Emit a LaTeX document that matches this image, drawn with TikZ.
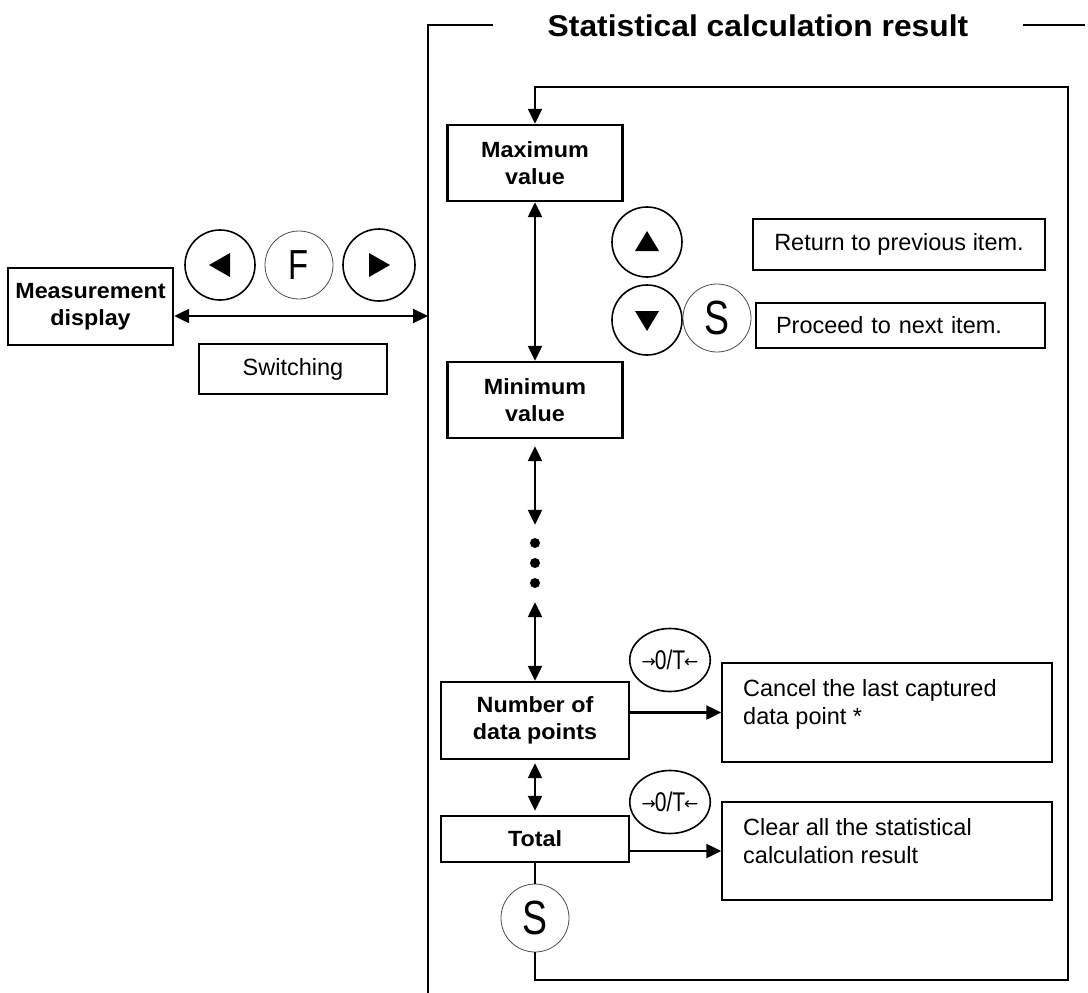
\documentclass[tikz,border=0pt]{standalone}
\usepackage{fontspec}
\setmainfont{Liberation Sans}
\newfontfamily\labfont{Liberation Sans}[FakeStretch=1.06]
\newfontfamily\narrowfont{Liberation Sans}[FakeStretch=0.78]
\newfontfamily\symfont{DejaVu Sans}
\usetikzlibrary{arrows.meta,shapes.geometric}
\newcommand{\zerotlabel}{\raisebox{2pt}{\symfont\fontsize{17}{17}\selectfont→}\kern-1pt{\narrowfont\fontsize{27}{27}\selectfont 0/T}\kern-1pt\raisebox{2pt}{\symfont\fontsize{17}{17}\selectfont←}}
\begin{document}
\begin{tikzpicture}[x=1pt,y=-1pt,
  bbox/.style={draw,line width=2.4pt,inner sep=0pt,align=center,font=\labfont\bfseries\fontsize{22}{27.5}\selectfont},
  tbox/.style={draw,line width=1.4pt,inner sep=0pt,font=\fontsize{23.5}{28}\selectfont},
  ttext/.style={anchor=north west,inner sep=0pt,align=left,font=\fontsize{23.5}{28}\selectfont},
  keybtn/.style={circle,draw,line width=1.6pt,inner sep=0pt},
  skey/.style={circle,draw=black!70,line width=0.8pt,inner sep=0pt,font=\narrowfont\fontsize{48}{48}\selectfont},
  ztkey/.style={ellipse,draw,line width=1.6pt,inner sep=0pt,minimum width=68pt,minimum height=63pt},
  dotn/.style={circle,fill,inner sep=0pt,minimum size=10pt},
  arr/.style={line width=2.3pt,-{Triangle[length=15pt,width=14pt]}},
  darr/.style={line width=2.3pt,{Triangle[length=15pt,width=14pt]}-{Triangle[length=15pt,width=14pt]}},
  loopline/.style={line width=1.8pt}]
\useasboundingbox (0,0) rectangle (1088,993);

% title and bracket
\node[inner sep=0pt,font=\labfont\bfseries\fontsize{30}{36}\selectfont] (title) at (758,25.5) {Statistical calculation result};
\draw[loopline] (493,25) -- (428,25) -- (428,993);
\draw[loopline] (1023,25) -- (1085,25);

% left part
\node[bbox,minimum width=165pt,minimum height=77pt] (meas) at (90.5,306.5) {Measurement\\display};
\node[keybtn,minimum size=70pt] (lt) at (220,265) {};
\node[skey,minimum size=68pt,font=\narrowfont\fontsize{42}{42}\selectfont] (fk) at (299,265) {F};
\node[keybtn,minimum size=72pt] (rt) at (379,265) {};
\fill ([xshift=-11pt]lt.center) -- ([xshift=10pt,yshift=12pt]lt.center) -- ([xshift=10pt,yshift=-12pt]lt.center) -- cycle;
\fill ([xshift=11pt]rt.center) -- ([xshift=-10pt,yshift=12pt]rt.center) -- ([xshift=-10pt,yshift=-12pt]rt.center) -- cycle;
\node[tbox,minimum width=188pt,minimum height=50pt] (sw) at (293,369) {Switching};
\coordinate (brk) at (428,316);
\draw[darr] (meas.east |- brk) -- (brk);

% column
\node[bbox,minimum width=175pt,minimum height=76pt] (max) at (535,163) {Maximum\\value};
\node[bbox,minimum width=175pt,minimum height=76pt] (min) at (535,400) {Minimum\\value};
\node[dotn] (d1) at (535,543) {};
\node[dotn] (d2) at (535,563) {};
\node[dotn] (d3) at (535,583) {};
\node[bbox,minimum width=188pt,minimum height=77pt] (num) at (535,720.5) {Number of\\data points};
\node[bbox,minimum width=188pt,minimum height=46pt] (tot) at (535,839) {Total};
\node[skey,minimum size=68pt] (sb) at (535,918) {S};

\draw[darr] (max.south) -- (min.north);
\draw[darr,shorten <=7pt,shorten >=13pt] (min.south) -- (d1.north);
\draw[darr,shorten <=14pt] (d3.south) -- (num.north);
\draw[darr,shorten <=3pt,shorten >=4pt] (num.south) -- (tot.north);

% loop
\coordinate (lr) at (1068,980);
\coordinate (tr) at (1068,87);
\draw[loopline] (tot.south) -- (sb.north);
\draw[loopline,-{Triangle[length=15pt,width=14pt]}] (sb.south) |- (lr) -- (tr) -| (max.north);

% up / down keys
\node[keybtn,minimum size=70pt] (up) at (647,242) {};
\node[keybtn,minimum size=70pt] (dn) at (647,320) {};
\node[skey,minimum size=68pt] (s2) at (717,318) {S};
\fill ([yshift=11pt]up.center) -- ([xshift=-12pt,yshift=-9pt]up.center) -- ([xshift=12pt,yshift=-9pt]up.center) -- cycle;
\fill ([yshift=-11pt]dn.center) -- ([xshift=-12pt,yshift=9pt]dn.center) -- ([xshift=12pt,yshift=9pt]dn.center) -- cycle;
\node[tbox,minimum width=292pt,minimum height=51pt] (ret) at (899,244.5) {Return to previous item.};
\node[tbox,minimum width=289pt,minimum height=45pt,text width=249pt,align=left] (proc) at (900.5,325.5) {Proceed to next item.};

% zero/tare actions
\node[ztkey] (zt1) at (670,660) {\zerotlabel};
\node[ztkey] (zt2) at (670,802) {\zerotlabel};
\node[tbox,minimum width=330pt,minimum height=99pt] (can) at (887,712.5) {};
\node[ttext] (cantxt) at (743,679) {Cancel the last captured\\data point *};
\node[tbox,minimum width=330pt,minimum height=98pt] (clr) at (887,851) {};
\node[ttext] (clrtxt) at (743,818) {Clear all the statistical\\calculation result};
\draw[arr] (num.east |- can.west) -- (can.west);
\draw[arr] (tot.east |- clr.west) -- (clr.west);
\end{tikzpicture}
\end{document}
